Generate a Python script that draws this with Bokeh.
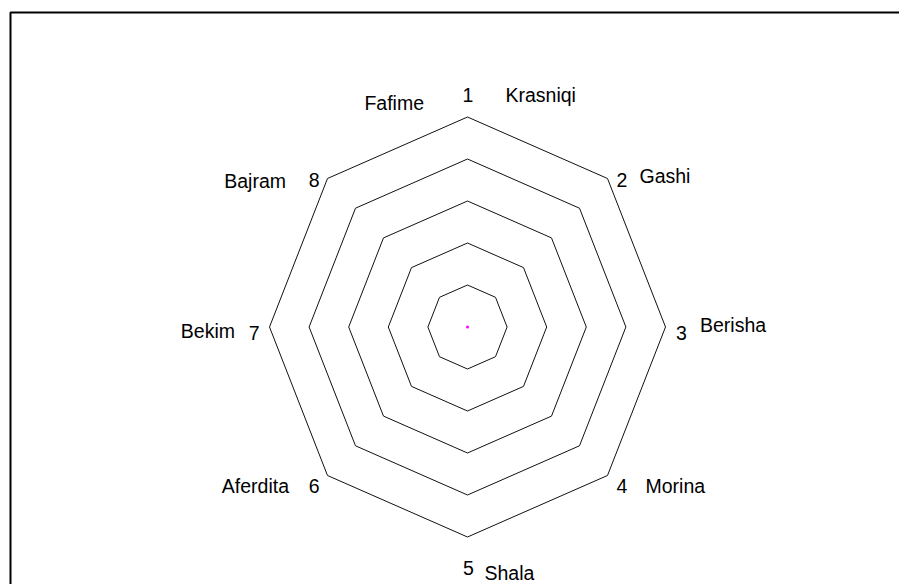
import math
from bokeh.plotting import figure
from bokeh.models import Range1d, ColumnDataSource
from bokeh.core.properties import value
from bokeh.embed import file_html
from bokeh.resources import INLINE

# ---------------- data ----------------
AXES = ["1", "2", "3", "4", "5", "6", "7", "8"]
NAMES = ["Krasniqi", "Gashi", "Berisha", "Morina", "Shala",
         "Aferdita", "Bekim", "Bajram", "Fafime"]
NAME_AXIS = [1, 2, 3, 4, 5, 6, 7, 8, 1]
RING_LEVELS = [1, 2, 3, 4, 5]
SERIES_VALUES = [0, 0, 0, 0, 0, 0, 0, 0]

# ---------------- layout / style ----------------
W, H = 899, 584
CX, CY = 467.0, 326.5          # radar centre in canvas pixels
SX, SY = 39.6, 42.0            # pixels per radar unit (x, y)
RMAX = max(RING_LEVELS)
FONT = value("Liberation Sans")
FSIZE = value("19.5px")

# pixel nudges of labels relative to the outer vertex of their axis
NUM_NUDGE = [(0.5, -22), (14.3, 1.8), (16, 5.5), (14.3, 10.7),
             (1, 31.3), (-13.3, 10.7), (-15.3, 5.5), (-13.3, 1.8)]
NAME_NUDGE = [(38, -22), (32, -2.5), (34.5, -2.2), (38, 10.7), (17, 36.3),
              (-38.5, 10.7), (-34.5, 4.2), (-41.5, 2.5), (-43.5, -14.3)]
NAME_ALIGN = ["left", "left", "left", "left", "left",
              "right", "right", "right", "right"]

n = len(AXES)
angles = [2 * math.pi * i / n for i in range(n)]


def pt(r, a):
    return r * math.sin(a), r * math.cos(a)


p = figure(width=W, height=H,
           x_range=Range1d(-CX / SX, (W - CX) / SX),
           y_range=Range1d(-(H - CY) / SY, CY / SY),
           x_axis_type=None, y_axis_type=None,
           output_backend="svg", toolbar_location=None,
           min_border=0, outline_line_color=None)
p.grid.visible = False
p.background_fill_color = "white"
p.border_fill_color = "white"

# frame border (top and left edges visible, rest beyond the page)
bx = (10.0 - CX) / SX
by = (CY - 12.0) / SY
p.line([bx, bx, 100], [-100, by, by], line_color="black", line_width=2)

# rings
rxs, rys = [], []
for lv in RING_LEVELS:
    xs = [pt(lv, a)[0] for a in angles] + [pt(lv, angles[0])[0]]
    ys = [pt(lv, a)[1] for a in angles] + [pt(lv, angles[0])[1]]
    rxs.append(xs)
    rys.append(ys)
p.multi_line(rxs, rys, line_color="#111111", line_width=1)

# series (all values zero -> collapses to the centre)
sx = [pt(v, a)[0] for v, a in zip(SERIES_VALUES, angles)]
sy = [pt(v, a)[1] for v, a in zip(SERIES_VALUES, angles)]
p.line(sx + sx[:1], sy + sy[:1], line_color="#FF00FF", line_width=3,
       line_cap="round")

# axis number labels
num_src = ColumnDataSource(dict(
    x=[pt(RMAX, a)[0] for a in angles],
    y=[pt(RMAX, a)[1] for a in angles],
    text=AXES,
    xo=[d[0] for d in NUM_NUDGE],
    yo=[d[1] for d in NUM_NUDGE],
))
p.text("x", "y", text="text", x_offset="xo", y_offset="yo", source=num_src,
       text_font=FONT, text_font_size=FSIZE, text_color="black",
       text_align="center", text_baseline="alphabetic")

# name labels
for align in ("left", "right"):
    idx = [i for i, al in enumerate(NAME_ALIGN) if al == align]
    src = ColumnDataSource(dict(
        x=[pt(RMAX, angles[NAME_AXIS[i] - 1])[0] for i in idx],
        y=[pt(RMAX, angles[NAME_AXIS[i] - 1])[1] for i in idx],
        text=[NAMES[i] for i in idx],
        xo=[NAME_NUDGE[i][0] for i in idx],
        yo=[NAME_NUDGE[i][1] for i in idx],
    ))
    p.text("x", "y", text="text", x_offset="xo", y_offset="yo", source=src,
           text_font=FONT, text_font_size=FSIZE, text_color="black",
           text_align=align, text_baseline="alphabetic")

open("out.html", "w").write(file_html(p, INLINE))
